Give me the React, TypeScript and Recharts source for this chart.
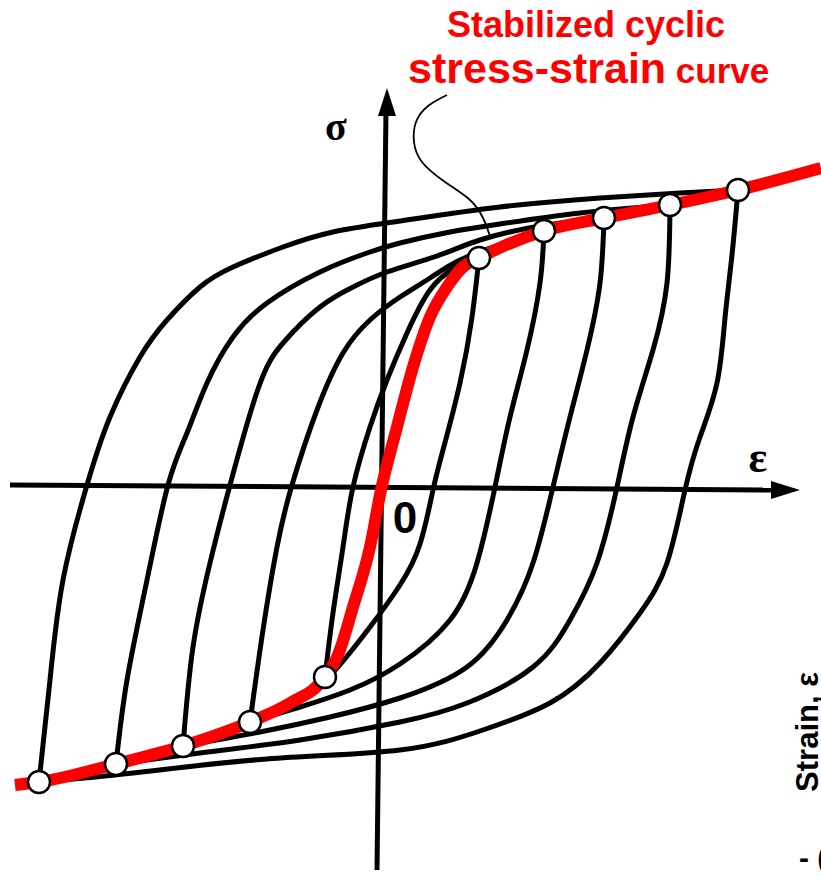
import React from 'react';
import { ComposedChart, Line, Scatter, XAxis, YAxis, Customized } from 'recharts';

type Pt = [number, number];

// strain (ε) / stress (σ) in schematic units, origin where the axes cross
const cyclicCurve: Pt[] = [
  [-3.65, -2.98], [-3.41, -2.95], [-2.64, -2.77], [-1.97, -2.59], [-1.3, -2.35],
  [-0.9, -2.16], [-0.55, -1.9], [-0.42, -1.68], [-0.27, -1.2], [-0.1, -0.6],
  [0.01, -0.03], [0.17, 0.6], [0.33, 1.2], [0.5, 1.7], [0.67, 2.0], [0.83, 2.2],
  [0.99, 2.29], [1.64, 2.56], [2.24, 2.69], [2.9, 2.82], [3.58, 2.97], [4.41, 3.19],
];

const upperTips: Pt[] = [[0.99, 2.29], [1.64, 2.56], [2.24, 2.69], [2.9, 2.82], [3.58, 2.97]];
const lowerTips: Pt[] = [[-0.55, -1.9], [-1.3, -2.35], [-1.97, -2.59], [-2.64, -2.77], [-3.41, -2.95]];

// loading branches of the hysteresis loops, innermost first
const loadingBranches: Pt[][] = [
  [[-0.55, -1.9], [-0.47, -1.26], [-0.37, -0.6], [-0.27, 0.0], [-0.1, 0.6], [0.07, 1.07], [0.27, 1.54], [0.5, 1.97], [0.75, 2.19], [0.99, 2.29]],
  [[-1.3, -2.35], [-1.17, -1.43], [-1.03, -0.6], [-0.88, 0.02], [-0.63, 0.77], [-0.37, 1.34], [-0.1, 1.67], [0.2, 1.9], [0.5, 2.09], [0.8, 2.27], [1.2, 2.42], [1.64, 2.56]],
  [[-1.97, -2.59], [-1.87, -1.6], [-1.7, -0.76], [-1.5, 0.02], [-1.22, 0.98], [-0.97, 1.44], [-0.6, 1.8], [-0.27, 2.0], [0.07, 2.15], [0.57, 2.31], [1.0, 2.47], [1.6, 2.61], [2.24, 2.69]],
  [[-2.64, -2.77], [-2.53, -1.93], [-2.33, -0.93], [-2.12, 0.02], [-1.93, 0.54], [-1.73, 1.04], [-1.47, 1.5], [-1.13, 1.84], [-0.6, 2.15], [-0.13, 2.34], [0.2, 2.44], [0.7, 2.55], [1.2, 2.63], [2.0, 2.74], [2.9, 2.82]],
  [[-3.41, -2.95], [-3.3, -1.93], [-3.17, -0.93], [-2.93, 0.02], [-2.7, 0.7], [-2.4, 1.3], [-2.13, 1.67], [-1.8, 2.0], [-1.47, 2.2], [-0.97, 2.4], [-0.47, 2.55], [0.2, 2.66], [1.2, 2.8], [2.2, 2.89], [3.0, 2.94], [3.58, 2.97]],
];

// unloading branches, innermost first
const unloadingBranches: Pt[][] = [
  [[-0.55, -1.9], [-0.43, -1.81], [-0.1, -1.4], [0.2, -0.98], [0.4, -0.57], [0.53, -0.03], [0.63, 0.37], [0.8, 1.04], [0.92, 1.7], [0.99, 2.29]],
  [[-1.3, -2.35], [-0.8, -2.2], [-0.3, -2.03], [0.2, -1.77], [0.7, -1.33], [0.97, -0.76], [1.15, 0.0], [1.3, 0.7], [1.47, 1.37], [1.6, 2.04], [1.64, 2.56]],
  [[-1.97, -2.59], [-1.2, -2.45], [-0.5, -2.3], [0.2, -2.11], [0.87, -1.8], [1.27, -1.33], [1.53, -0.76], [1.73, 0.0], [1.9, 0.7], [2.07, 1.37], [2.2, 2.04], [2.24, 2.69]],
  [[-2.64, -2.77], [-1.8, -2.66], [-0.8, -2.53], [0.2, -2.35], [0.87, -2.16], [1.53, -1.8], [1.9, -1.33], [2.17, -0.76], [2.37, 0.0], [2.53, 0.7], [2.73, 1.37], [2.87, 2.04], [2.9, 2.82]],
  [[-3.41, -2.95], [-2.47, -2.86], [-1.13, -2.72], [0.2, -2.63], [1.03, -2.43], [1.7, -2.16], [2.2, -1.76], [2.6, -1.26], [2.87, -0.76], [3.05, -0.03], [3.2, 0.5], [3.37, 1.04], [3.45, 1.69], [3.52, 2.32], [3.58, 2.97]],
];

const pointerLine: Pt[] = [
  [0.67, 3.92], [0.48, 3.81], [0.36, 3.65], [0.34, 3.45], [0.42, 3.25],
  [0.65, 3.05], [0.9, 2.87], [1.03, 2.69], [1.1, 2.51],
];

const strainAxis: Pt[] = [[-3.7, 0.02], [4.0, -0.03]];
const stressAxis: Pt[] = [[-0.03, -3.83], [0.06, 3.77]];
const strainArrow: Pt[] = [[4.2, -0.03]];
const stressArrow: Pt[] = [[0.07, 3.99]];

const toRows = (pts: Pt[]) => pts.map(([x, y]) => ({ x, y }));

const SANS = 'Liberation Sans, Arial, sans-serif';
const SERIF = 'Liberation Serif, Times New Roman, serif';

const TipMarker = (p: any) => (
  <circle cx={p.cx} cy={p.cy} r={11} fill="#fff" stroke="#000" strokeWidth={2.5} />
);

const RightArrow = (p: any) => (
  <polygon points={`${p.cx},${p.cy} ${p.cx - 29},${p.cy - 9} ${p.cx - 29},${p.cy + 9}`} fill="#000" />
);

const UpArrow = (p: any) => (
  <polygon points={`${p.cx},${p.cy} ${p.cx - 9},${p.cy + 28} ${p.cx + 9},${p.cy + 28}`} fill="#000" />
);

const Labels = () => (
  <g>
    <text x={447} y={37} fontFamily={SANS} fontWeight="bold" fontSize={36} fill="#f00">
      Stabilized cyclic
    </text>
    <text x={408} y={83} fontFamily={SANS} fontWeight="bold" fill="#f00">
      <tspan fontSize={43}>stress-strain</tspan>
      <tspan fontSize={35}> curve</tspan>
    </text>
    <text x={336} y={140} textAnchor="middle" fontFamily={SERIF} fontWeight="bold" fontSize={40}>σ</text>
    <text x={758} y={472} textAnchor="middle" fontFamily={SERIF} fontWeight="bold" fontSize={44}>ε</text>
    <text x={405} y={533} textAnchor="middle" fontFamily={SANS} fontWeight="bold" fontSize={44}>0</text>
    <text
      x={818}
      y={732}
      transform="rotate(-90, 818, 732)"
      textAnchor="middle"
      fontFamily={SANS}
      fontWeight="bold"
      fontSize={31}
    >
      Strain, ε
    </text>
    <text x={799} y={868} fontFamily={SANS} fontWeight="bold" fontSize={30}>- (</text>
  </g>
);

const branchProps = {
  dataKey: 'y',
  type: 'natural' as const,
  stroke: '#000',
  strokeWidth: 5,
  dot: false,
  activeDot: false,
  isAnimationActive: false,
};

export default function App() {
  return (
    <div style={{ position: 'absolute', left: 0, top: 0, background: '#fff' }}>
      <ComposedChart width={821} height={876} margin={{ top: 0, right: 0, bottom: 0, left: 0 }}>
        <XAxis dataKey="x" type="number" domain={[-3.8, 4.41]} allowDataOverflow hide />
        <YAxis dataKey="y" type="number" domain={[-3.89, 4.87]} allowDataOverflow hide />

        <Line data={toRows(strainAxis)} dataKey="y" type="linear" stroke="#000" strokeWidth={5} dot={false} activeDot={false} isAnimationActive={false} />
        <Line data={toRows(stressAxis)} dataKey="y" type="linear" stroke="#000" strokeWidth={5} dot={false} activeDot={false} isAnimationActive={false} />

        {loadingBranches.map((b, i) => (
          <Line key={`up-${i}`} data={toRows(b)} {...branchProps} />
        ))}
        {unloadingBranches.map((b, i) => (
          <Line key={`down-${i}`} data={toRows(b)} {...branchProps} />
        ))}

        <Line data={toRows(pointerLine)} dataKey="y" type="natural" stroke="#000" strokeWidth={1.8} dot={false} activeDot={false} isAnimationActive={false} />

        <Line data={toRows(cyclicCurve)} dataKey="y" type="monotone" stroke="#f00" strokeWidth={12} dot={false} activeDot={false} isAnimationActive={false} />

        <Scatter data={toRows(upperTips)} dataKey="y" shape={TipMarker} isAnimationActive={false} />
        <Scatter data={toRows(lowerTips)} dataKey="y" shape={TipMarker} isAnimationActive={false} />
        <Scatter data={toRows(strainArrow)} dataKey="y" shape={RightArrow} isAnimationActive={false} />
        <Scatter data={toRows(stressArrow)} dataKey="y" shape={UpArrow} isAnimationActive={false} />

        <Customized component={Labels} />
      </ComposedChart>
    </div>
  );
}
